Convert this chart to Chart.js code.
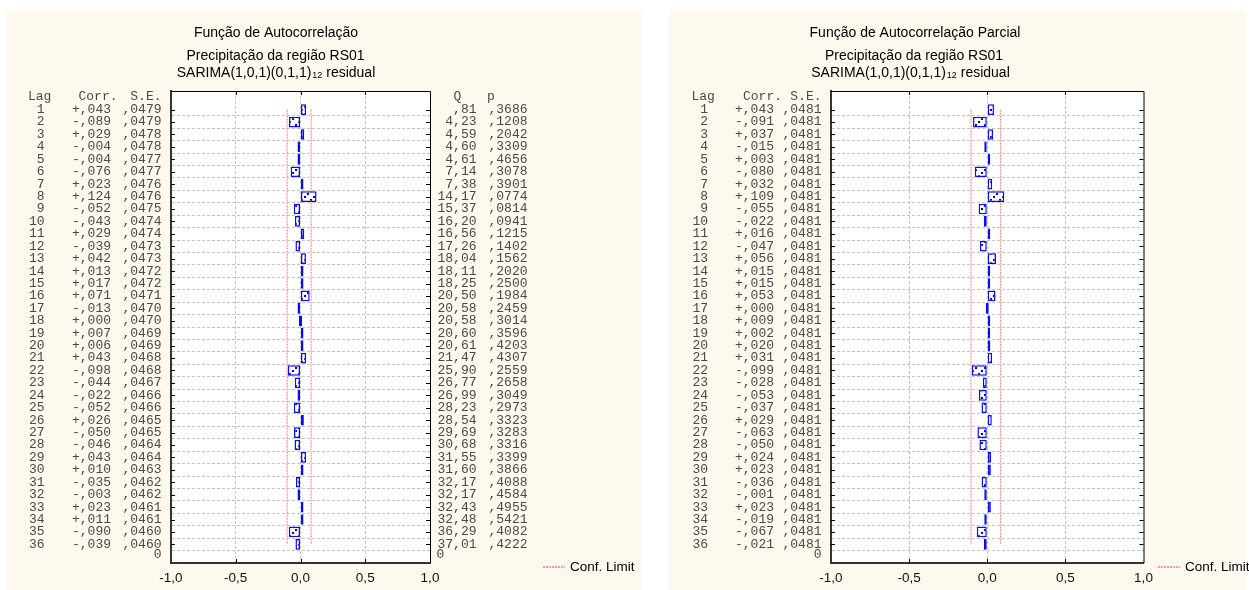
<!DOCTYPE html>
<html>
<head>
<meta charset="utf-8">
<script src="https://cdn.jsdelivr.net/npm/chart.js@4.4.1/dist/chart.umd.min.js"></script>
<style>
  body { margin: 0; background: #fff; width: 1249px; height: 590px; position: relative; overflow: hidden; }
  .panel { position: absolute; background: #fdf9ef; }
  canvas { position: absolute; }
</style>
</head>
<body>
<div class="panel" style="left:7px;top:10px;width:634px;height:580px"></div>
<div class="panel" style="left:669px;top:10px;width:576px;height:580px"></div>
<canvas id="acfChart" width="634" height="580" style="left:7px;top:10px"></canvas>
<canvas id="pacfChart" width="580" height="580" style="left:669px;top:10px"></canvas>
<script>
// data
const lags = [1, 2, 3, 4, 5, 6, 7, 8, 9, 10, 11, 12, 13, 14, 15, 16, 17, 18,
  19, 20, 21, 22, 23, 24, 25, 26, 27, 28, 29, 30, 31, 32, 33, 34, 35, 36];

const acfCorr = [0.043, -0.089, 0.029, -0.004, -0.004, -0.076, 0.023, 0.124, -0.052, -0.043, 0.029, -0.039,
  0.042, 0.013, 0.017, 0.071, -0.013, 0.000, 0.007, 0.006, 0.043, -0.098, -0.044, -0.022,
  -0.052, 0.026, -0.050, -0.046, 0.043, 0.010, -0.035, -0.003, 0.023, 0.011, -0.090, -0.039];
const acfSE = [0.0479, 0.0479, 0.0478, 0.0478, 0.0477, 0.0477, 0.0476, 0.0476, 0.0475, 0.0474, 0.0474, 0.0473,
  0.0473, 0.0472, 0.0472, 0.0471, 0.0470, 0.0470, 0.0469, 0.0469, 0.0468, 0.0468, 0.0467, 0.0466,
  0.0466, 0.0465, 0.0465, 0.0464, 0.0464, 0.0463, 0.0462, 0.0462, 0.0461, 0.0461, 0.0460, 0.0460];
const acfQ = [0.81, 4.23, 4.59, 4.60, 4.61, 7.14, 7.38, 14.17, 15.37, 16.20, 16.56, 17.26,
  18.04, 18.11, 18.25, 20.50, 20.58, 20.58, 20.60, 20.61, 21.47, 25.90, 26.77, 26.99,
  28.23, 28.54, 29.69, 30.68, 31.55, 31.60, 32.17, 32.17, 32.43, 32.48, 36.29, 37.01];
const acfP = [0.3686, 0.1208, 0.2042, 0.3309, 0.4656, 0.3078, 0.3901, 0.0774, 0.0814, 0.0941, 0.1215, 0.1402,
  0.1562, 0.2020, 0.2500, 0.1984, 0.2459, 0.3014, 0.3596, 0.4203, 0.4307, 0.2559, 0.2658, 0.3049,
  0.2973, 0.3323, 0.3283, 0.3316, 0.3399, 0.3866, 0.4088, 0.4584, 0.4955, 0.5421, 0.4082, 0.4222];
const acfConf = [-0.1035, 0.082];

const pacfCorr = [0.043, -0.091, 0.037, -0.015, 0.003, -0.080, 0.032, 0.109, -0.055, -0.022, 0.016, -0.047,
  0.056, 0.015, 0.015, 0.053, 0.000, 0.009, 0.002, 0.020, 0.031, -0.099, -0.028, -0.053,
  -0.037, 0.029, -0.063, -0.050, 0.024, 0.023, -0.036, -0.001, 0.023, -0.019, -0.067, -0.021];
const pacfSE = [0.0481, 0.0481, 0.0481, 0.0481, 0.0481, 0.0481, 0.0481, 0.0481, 0.0481, 0.0481, 0.0481, 0.0481,
  0.0481, 0.0481, 0.0481, 0.0481, 0.0481, 0.0481, 0.0481, 0.0481, 0.0481, 0.0481, 0.0481, 0.0481,
  0.0481, 0.0481, 0.0481, 0.0481, 0.0481, 0.0481, 0.0481, 0.0481, 0.0481, 0.0481, 0.0481, 0.0481];
const pacfConf = [-0.104, 0.086];

const xTicks = [-1, -0.5, 0, 0.5, 1];
const xTickLabels = ["-1,0", "-0,5", "0,0", "0,5", "1,0"];

const acfTitle = "Função de Autocorrelação";
const pacfTitle = "Função de Autocorrelação Parcial";
const subTitle = "Precipitação da região RS01";
const modelText = ["SARIMA(1,0,1)(0,1,1)", "12", " residual"];
const legendText = "Conf. Limit";

const SANS = '"Liberation Sans", Arial, sans-serif';
const MONO = '"Liberation Mono", "Courier New", monospace';

// hatch fill for the bars
function makePattern() {
    const c = document.createElement("canvas");
    c.width = 9;
    c.height = 9;
    const g = c.getContext("2d");
    g.fillStyle = "#ffffff";
    g.fillRect(0, 0, 9, 9);
    g.fillStyle = "#0000c8";
    g.fillRect(0, 6, 2, 2);
    g.fillRect(3, 3, 2, 2);
    g.fillRect(6, 0, 2, 2);
    return g.createPattern(c, "repeat");
}
const barPattern = makePattern();

const fmtCorr = v => (v < 0 ? "-" : "+") + "," + Math.abs(v).toFixed(3).slice(2);
const fmtFrac = v => "," + v.toFixed(4).slice(2);
const fmtQ = v => (v < 1 ? "," + v.toFixed(2).slice(2) : v.toFixed(2).replace(".", ","));

function txt(ctx, s, x, y, align) {
    ctx.textAlign = align;
    ctx.fillText(s, x, y);
}

const frame = {
    id: "frame",
    beforeDraw(chart) {
        const a = chart.chartArea;
        chart.ctx.save();
        chart.ctx.fillStyle = "#ffffff";
        chart.ctx.fillRect(a.left, a.top, a.right - a.left, a.bottom - a.top);
        chart.ctx.restore();
    },
    afterDraw(chart) {
        const ctx = chart.ctx, a = chart.chartArea;
        const xs = chart.scales.x, ys = chart.scales.y;
        ctx.save();
        ctx.strokeStyle = "#000";
        ctx.lineWidth = 1;
        ctx.beginPath();
        ctx.moveTo(a.left, a.top + 0.5);
        ctx.lineTo(a.right + 0.5, a.top + 0.5);
        ctx.lineTo(a.right + 0.5, a.bottom);
        // inner ticks
        lags.forEach(l => {
            const y = Math.round(ys.getPixelForValue(l)) + 0.5;
            ctx.moveTo(a.left, y);
            ctx.lineTo(a.left + 4, y);
            ctx.moveTo(a.right - 4, y);
            ctx.lineTo(a.right, y);
        });
        xTicks.slice(1, -1).forEach(v => {
            const x = Math.round(xs.getPixelForValue(v)) + 0.5;
            ctx.moveTo(x, a.top);
            ctx.lineTo(x, a.top + 4);
            ctx.moveTo(x, a.bottom - 4);
            ctx.lineTo(x, a.bottom);
        });
        ctx.stroke();
        ctx.restore();
    }
};

function textPlugin(o) {
    return {
        id: "texts",
        afterDraw(chart) {
            const ctx = chart.ctx, ys = chart.scales.y;
            ctx.save();
            ctx.textBaseline = "middle";

            // titles
            ctx.fillStyle = "#000";
            ctx.font = "14px " + SANS;
            txt(ctx, o.title, o.titleX[0], 23, "center");
            txt(ctx, subTitle, o.titleX[1], 46, "center");
            const small = "9px " + SANS;
            ctx.font = "14px " + SANS;
            const w1 = ctx.measureText(modelText[0]).width;
            const w3 = ctx.measureText(modelText[2]).width;
            ctx.font = small;
            const w2 = ctx.measureText(modelText[1]).width + 1;
            let x = o.titleX[2] - (w1 + w2 + w3) / 2;
            ctx.font = "14px " + SANS;
            txt(ctx, modelText[0], x, 63, "left");
            ctx.font = small;
            txt(ctx, modelText[1], x + w1 + 1, 66, "left");
            ctx.font = "14px " + SANS;
            txt(ctx, modelText[2], x + w1 + w2, 63, "left");

            // table
            ctx.fillStyle = "#4a4a4a";
            ctx.font = "13px " + MONO;
            const c = o.cols;
            const yh = ys.getPixelForValue(0) - 1;
            txt(ctx, "Lag", c.lagHead, yh, "left");
            txt(ctx, "Corr.", c.corrHead, yh, "right");
            txt(ctx, "S.E.", c.se, yh, "right");
            lags.forEach((l, i) => {
                const y = ys.getPixelForValue(l);
                txt(ctx, String(l), c.lag, y, "right");
                txt(ctx, fmtCorr(o.corr[i]), c.corr, y, "right");
                txt(ctx, fmtFrac(o.se[i]), c.se, y, "right");
                if (o.q) {
                    txt(ctx, fmtQ(o.q[i]), c.q, y, "right");
                    txt(ctx, fmtFrac(o.p[i]), c.p, y, "right");
                }
            });
            const yb = ys.getPixelForValue(37) - 2;
            txt(ctx, "0", c.se, yb, "right");
            if (o.q) {
                txt(ctx, "Q", c.qHead, yh, "center");
                txt(ctx, "p", c.pHead, yh, "left");
                txt(ctx, "0", c.qZero, yb, "left");
            }

            // legend
            ctx.strokeStyle = "#f39a9a";
            ctx.lineWidth = 2;
            ctx.setLineDash([2, 1]);
            ctx.beginPath();
            ctx.moveTo(o.legend[0], 557);
            ctx.lineTo(o.legend[0] + 22, 557);
            ctx.stroke();
            ctx.fillStyle = "#000";
            ctx.font = "13.5px " + SANS;
            txt(ctx, legendText, o.legend[1], 557, "left");
            ctx.restore();
        }
    };
}

function buildChart(id, o) {
    const confLine = v => ({
        type: "line",
        data: [{ x: v, y: 1 }, { x: v, y: 36 }],
        borderColor: "#f07a7a",
        borderWidth: 1,
        borderDash: [2, 1],
        pointRadius: 0
    });
    return new Chart(document.getElementById(id), {
        type: "bar",
        data: {
            datasets: [{
                data: lags.map((l, i) => ({ x: o.corr[i], y: l })),
                backgroundColor: barPattern,
                borderColor: "#0a0aff",
                borderWidth: 1.5,
                borderSkipped: false,
                barPercentage: 1,
                categoryPercentage: 0.86,
                minBarLength: 3
            }, confLine(o.conf[0]), confLine(o.conf[1])]
        },
        options: {
            responsive: false,
            animation: false,
            indexAxis: "y",
            layout: { padding: o.padding },
            plugins: {
                legend: { display: false },
                tooltip: { enabled: false }
            },
            scales: {
                x: {
                    type: "linear",
                    min: -1,
                    max: 1,
                    ticks: {
                        stepSize: 0.5,
                        padding: 7,
                        color: "#111",
                        font: { family: SANS, size: 13.5 },
                        callback: v => xTickLabels[xTicks.indexOf(v)]
                    },
                    grid: {
                        drawTicks: false,
                        color: c => (c.tick && Math.abs(c.tick.value) === 1) ? "rgba(0,0,0,0)" : "#c4c4c4"
                    },
                    border: { color: "#333", width: 2, dash: [3, 2] },
                    afterFit: s => { s.height = 27; }
                },
                y: {
                    type: "linear",
                    reverse: true,
                    min: 0,
                    max: 37,
                    ticks: { display: false, stepSize: 1 },
                    grid: {
                        drawTicks: false,
                        color: c => (c.tick && (c.tick.value === 0 || c.tick.value === 37)) ? "rgba(0,0,0,0)" : "#c4c4c4"
                    },
                    border: { color: "#333", width: 2, dash: [3, 2] },
                    afterFit: s => { s.width = 0; }
                }
            }
        },
        plugins: [frame, textPlugin(o)]
    });
}

buildChart("acfChart", {
    corr: acfCorr, se: acfSE, q: acfQ, p: acfP, conf: acfConf,
    title: acfTitle,
    titleX: [269, 268.5, 269],
    padding: { left: 164, top: 81, right: 211, bottom: 0 },
    cols: { lagHead: 21, lag: 37.5, corrHead: 110.5, corr: 104, se: 154.5, q: 469.5, p: 520.5, qHead: 450.5, pHead: 480, qZero: 429.5 },
    legend: [536, 563]
});

buildChart("pacfChart", {
    corr: pacfCorr, se: pacfSE, conf: pacfConf,
    title: pacfTitle,
    titleX: [246, 245, 241.5],
    padding: { left: 162, top: 81, right: 105.5, bottom: 0 },
    cols: { lagHead: 22.5, lag: 39, corrHead: 113, corr: 105, se: 152.5 },
    legend: [489, 516]
});
</script>
</body>
</html>
